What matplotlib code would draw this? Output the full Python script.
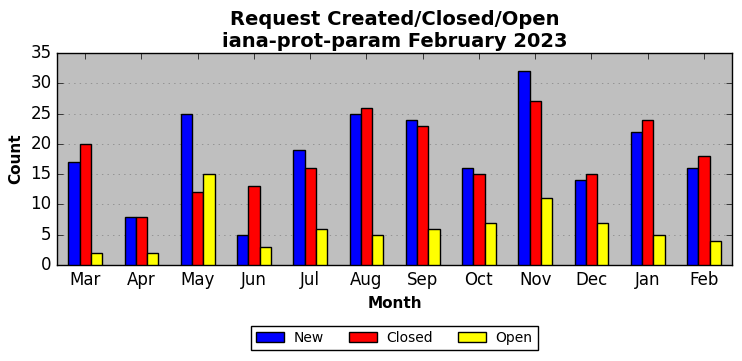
import matplotlib
matplotlib.use("Agg")
import matplotlib.pyplot as plt
import numpy as np

plt.style.use("classic")

months = ["Mar", "Apr", "May", "Jun", "Jul", "Aug", "Sep", "Oct", "Nov", "Dec", "Jan", "Feb"]
new = [17, 8, 25, 5, 19, 25, 24, 16, 32, 14, 22, 16]
closed = [20, 8, 12, 13, 16, 26, 23, 15, 27, 15, 24, 18]
open_ = [2, 2, 15, 3, 6, 5, 6, 7, 11, 7, 5, 4]

fig = plt.figure(figsize=(7.42, 3.61), dpi=100, facecolor="white")
ax = fig.add_axes([57/742, 1-265/361, (732-57)/742, (265-53)/361])
ax.set_facecolor("#bfbfbf")
x = np.arange(len(months))
w = 0.2
ax.bar(x - w, new, w, align="center", color="blue", edgecolor="black", linewidth=1, label="New", zorder=3)
ax.bar(x, closed, w, align="center", color="red", edgecolor="black", linewidth=1, label="Closed", zorder=3)
ax.bar(x + w, open_, w, align="center", color="yellow", edgecolor="black", linewidth=1, label="Open", zorder=3)
ax.set_xlim(-0.5, 11.5)
ax.set_ylim(0, 35)
ax.set_yticks(range(0, 36, 5))
ax.set_xticks(x)
ax.set_xticklabels(months, fontsize=12)
ax.tick_params(axis="y", labelsize=12)
ax.yaxis.grid(True, linestyle=":", color="gray", zorder=0)
ax.xaxis.grid(False)
ax.set_axisbelow(True)
ax.set_xlabel("Month", fontsize=11, fontweight="bold")
ax.set_ylabel("Count", fontsize=11, fontweight="bold")
ax.set_title("Request Created/Closed/Open\niana-prot-param February 2023", fontsize=14, fontweight="bold", y=0.995)
ax.legend(loc="upper center", bbox_to_anchor=(0.5, -0.255), ncol=3, fontsize=10, frameon=True,
          columnspacing=1.8, handletextpad=0.7, borderpad=0.35)
fig.savefig("out.png", dpi=100, facecolor="white")
